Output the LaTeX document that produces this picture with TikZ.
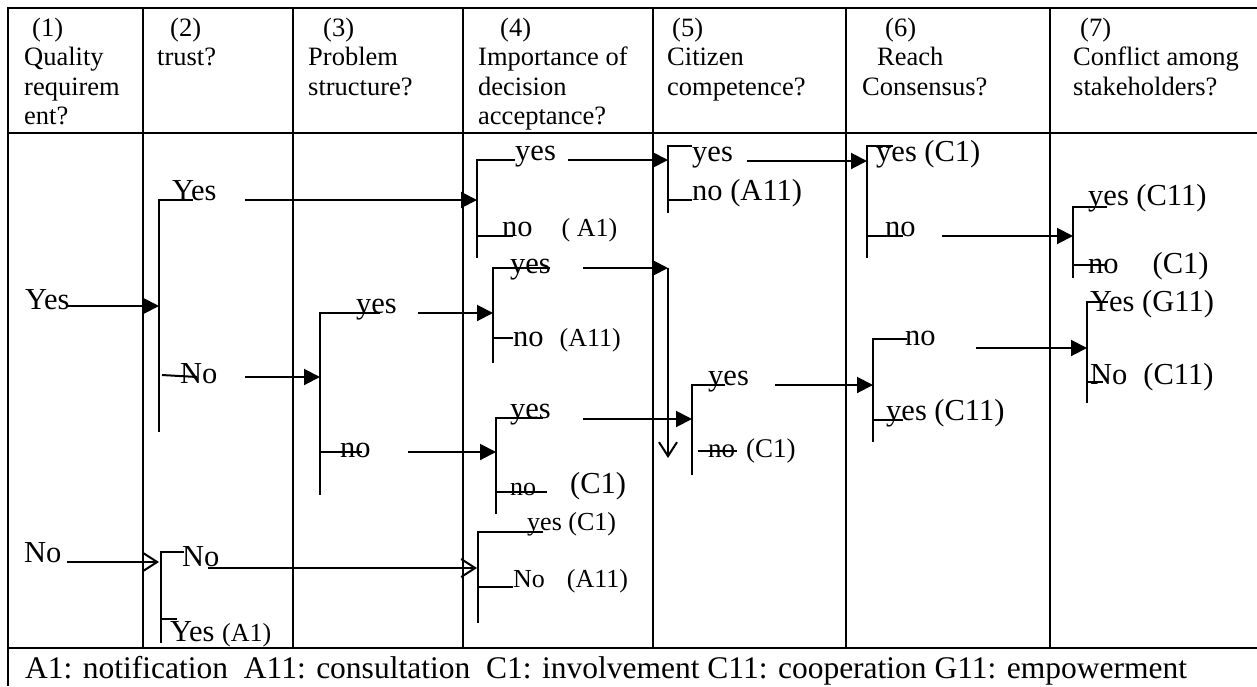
\documentclass[tikz,border=0pt]{standalone}
\usepackage{fontspec}
\setmainfont{Liberation Serif}
\usetikzlibrary{arrows.meta}
\newcommand{\smtxt}{\fontsize{26pt}{29pt}\selectfont}
\tikzset{
  tbl/.style={line width=2.7pt},
  br/.style={line width=2pt},
  arr/.style={line width=2pt,-{Triangle[length=16pt,width=16pt]}},
  oarr/.style={line width=2pt,-{Straight Barb[length=14pt,width=18pt,line width=2pt]}},
  hdr/.style={anchor=base west,inner sep=0pt,font=\fontsize{26.5pt}{29pt}\selectfont},
  lab/.style={anchor=base west,inner sep=0pt,font=\fontsize{30.5pt}{34pt}\selectfont},
  sml/.style={anchor=base west,inner sep=0pt,font=\smtxt},
  foot/.style={anchor=base west,inner sep=0pt,font=\fontsize{31.5pt}{35pt}\selectfont},
}
\begin{document}
\begin{tikzpicture}[x=1pt,y=-1pt]
\useasboundingbox (0,0) rectangle (1257,686);
% ---------- table ----------
\coordinate (TL) at (8,8);
\coordinate (TR) at (1257,8);
\coordinate (BL) at (8,686);
\draw[tbl] (BL) -- (TL) -- (TR);
\draw[tbl] (8,133) -- (1257,133);
\draw[tbl] (8,648) -- (1257,648);
\foreach \cx in {143,293,463,653,846,1050}{
  \draw[tbl] (\cx,8) -- (\cx,648);
}
% ---------- header ----------
\node[hdr] (h1a) at (32,36) {(1)};
\node[hdr] (h1b) at (24,65.5) {Quality};
\node[hdr] (h1c) at (24,95) {requirem};
\node[hdr] (h1d) at (24,124.5) {ent?};
\node[hdr] (h2a) at (170,36) {(2)};
\node[hdr] (h2b) at (157,65.5) {trust?};
\node[hdr] (h3a) at (323,36) {(3)};
\node[hdr] (h3b) at (308,65.5) {Problem};
\node[hdr] (h3c) at (308,95) {structure?};
\node[hdr] (h4a) at (500,36) {(4)};
\node[hdr] (h4b) at (478,65.5) {Importance of};
\node[hdr] (h4c) at (478,95) {decision};
\node[hdr] (h4d) at (478,124.5) {acceptance?};
\node[hdr] (h5a) at (672,36) {(5)};
\node[hdr] (h5b) at (667,65.5) {Citizen};
\node[hdr] (h5c) at (667,95) {competence?};
\node[hdr] (h6a) at (885,36) {(6)};
\node[hdr] (h6b) at (877,65.5) {Reach};
\node[hdr] (h6c) at (862,95) {Consensus?};
\node[hdr] (h7a) at (1080,36) {(7)};
\node[hdr] (h7b) at (1073,65.5) {Conflict among};
\node[hdr] (h7c) at (1073,95) {stakeholders?};
% ---------- footer ----------
\node[foot] (ft) at (25,678) {A1: notification\ \ A11: consultation\ \ C1: involvement C11: cooperation G11: empowerment};

% ---------- column 1 ----------
\node[lab] (c1yes) at (25,309) {Yes};
\node[lab] (c1no) at (24,562) {No};
\coordinate (a1s) at (67,306);  \coordinate (a1e) at (159,306);
\coordinate (a2s) at (67,562);  \coordinate (a2e) at (159,562);
\draw[arr] (a1s) -- (a1e);
\draw[oarr] (a2s) -- (a2e);

% ---------- column 2 ----------
\draw[br] (159,432) -- (159,200) -- (193,200);
\draw[br] (162,375) -- (197,377);
\node[lab] (c2yes) at (172,200) {Yes};
\node[lab] (c2no) at (180,383) {No};
\coordinate (a3s) at (245,200); \coordinate (a3e) at (477,200);
\coordinate (a4s) at (245,377); \coordinate (a4e) at (320,377);
\draw[arr] (a3s) -- (a3e);
\draw[arr] (a4s) -- (a4e);
\draw[br] (184,552) -- (161,552) -- (161,643);
\draw[br] (161,619) -- (177,619);
\node[lab] (c2no2) at (182,566) {No};
\node[lab] (c2yes2) at (170,641) {Yes {\smtxt(A1)}};
\coordinate (a5s) at (208,568); \coordinate (a5e) at (477,568);
\draw[oarr] (a5s) -- (a5e);

% ---------- column 3 ----------
\draw[br] (380,313) -- (320,313) -- (320,495);
\draw[br] (320,452) -- (362,452);
\node[lab] (c3yes) at (356,313) {yes};
\node[lab] (c3no) at (340,457) {no};
\coordinate (a6s) at (418,313); \coordinate (a6e) at (493,313);
\coordinate (a7s) at (408,452); \coordinate (a7e) at (496,452);
\draw[arr] (a6s) -- (a6e);
\draw[arr] (a7s) -- (a7e);

% ---------- column 4 ----------
% bracket A
\draw[br] (515,160) -- (477,160) -- (477,258);
\draw[br] (477,236) -- (513,236);
\node[lab] (c4ayes) at (515,160) {yes};
\node[lab] (c4ano) at (502,236) {no\hspace{29pt}{\smtxt( A1)}};
\coordinate (a8s) at (568,160); \coordinate (a8e) at (668,160);
\draw[arr] (a8s) -- (a8e);
% bracket B
\draw[br] (550,268) -- (493,268) -- (493,363);
\draw[br] (493,338) -- (513,338);
\node[lab] (c4byes) at (510,273) {yes};
\node[lab] (c4bno) at (513,346) {no\hspace{16pt}{\smtxt(A11)}};
\coordinate (a9s) at (583,268); \coordinate (a9e) at (668,268);
\coordinate (a9d) at (668,458);
\draw[arr] (a9s) -- (a9e);
\draw[oarr] (a9e) -- (a9d);
% bracket C
\draw[br] (543,418) -- (496,418) -- (496,514);
\draw[br] (496,492) -- (547,492);
\node[lab] (c4cyes) at (510,418) {yes};
\node[sml] (c4cno) at (510,495) {no};
\node[lab] (c4cc1) at (570,493) {(C1)};
\coordinate (a10s) at (583,419); \coordinate (a10e) at (692,419);
\draw[arr] (a10s) -- (a10e);
% bracket D
\draw[br] (543,532) -- (478,532) -- (478,623);
\draw[br] (478,587) -- (513,587);
\node[sml] (c4dyes) at (527,530) {yes (C1)};
\node[sml] (c4dno) at (513,587) {No\hspace{22pt}(A11)};

% ---------- column 5 ----------
% bracket E
\draw[br] (692,146) -- (668,146) -- (668,213);
\draw[br] (668,200) -- (692,200);
\node[lab] (c5eyes) at (692,161) {yes};
\node[lab] (c5eno) at (692,200) {no (A11)};
\coordinate (a11s) at (747,161); \coordinate (a11e) at (867,161);
\draw[arr] (a11s) -- (a11e);
% bracket F
\draw[br] (725,385) -- (692,385) -- (692,475);
\draw[br] (698,451) -- (737,451);
\node[lab] (c5fyes) at (708,385) {yes};
\node[anchor=base west,inner sep=0pt,font=\fontsize{27pt}{30pt}\selectfont] (c5fno) at (708,457) {no\hspace{11pt}(C1)};
\coordinate (a12s) at (775,385); \coordinate (a12e) at (873,385);
\draw[arr] (a12s) -- (a12e);

% ---------- column 6 ----------
% bracket H
\draw[br] (893,146) -- (867,146) -- (867,258);
\draw[br] (867,236) -- (903,236);
\node[lab] (c6hyes) at (876,161) {yes (C1)};
\node[lab] (c6hno) at (885,236) {no};
\coordinate (a13s) at (942,236); \coordinate (a13e) at (1073,236);
\draw[arr] (a13s) -- (a13e);
% bracket G
\draw[br] (907,339) -- (873,339) -- (873,442);
\draw[br] (873,420) -- (903,420);
\node[lab] (c6gno) at (905,345) {no};
\node[lab] (c6gyes) at (886,420) {yes (C11)};
\coordinate (a14s) at (976,348); \coordinate (a14e) at (1087,348);
\draw[arr] (a14s) -- (a14e);

% ---------- column 7 ----------
% bracket I
\draw[br] (1107,207) -- (1073,207) -- (1073,278);
\draw[br] (1073,265) -- (1105,265);
\node[lab] (c7iyes) at (1088,205) {yes (C11)};
\node[lab] (c7ino) at (1088,273) {no\hspace{34pt}(C1)};
% bracket J
\draw[br] (1108,302) -- (1087,302) -- (1087,403);
\draw[br] (1087,382) -- (1103,382);
\node[lab] (c7jyes) at (1090,311) {Yes (G11)};
\node[lab] (c7jno) at (1090,384) {No\hspace{16pt}(C11)};
\end{tikzpicture}
\end{document}
